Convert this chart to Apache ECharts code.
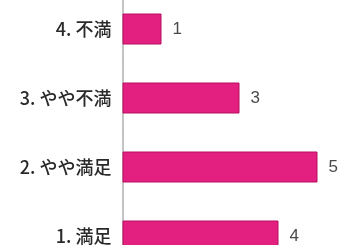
<!DOCTYPE html>
<html>
<head>
<meta charset="utf-8">
<script src="https://cdn.jsdelivr.net/npm/echarts@6/dist/echarts.min.js"></script>
<style>
  html, body { margin: 0; padding: 0; background: #fff; }
  #chart { width: 341px; height: 245px; }
</style>
</head>
<body>
<div id="chart"></div>
<script>
// bottom to top
const categories = ['1. 満足', '2. やや満足', '3. やや不満', '4. 不満']
const counts = [4, 5, 3, 1]

let chart = echarts.init(document.getElementById('chart'))
let option = {
  backgroundColor: '#ffffff',
  animation: false,
  grid: {
    left: 122.5,
    right: 4,
    top: -5.5,
    height: 276,
    outerBoundsMode: 'none',
    containLabel: false
  },
  xAxis: {
    type: 'value',
    min: 0,
    max: 5.5,
    show: false
  },
  yAxis: {
    type: 'category',
    data: categories,
    offset: 3,
    axisTick: { show: false },
    axisLine: {
      show: true,
      lineStyle: { color: '#c2c2c2', width: 2, type: [2, 1] }
    },
    axisLabel: {
      margin: 8,
      fontSize: 18,
      fontWeight: 500,
      color: '#2a2a2a',
      fontFamily: 'Noto Sans CJK JP'
    }
  },
  series: [
    {
      type: 'bar',
      data: counts,
      barWidth: 31,
      itemStyle: {
        color: '#e3207f',
        borderColor: '#b80f62',
        borderWidth: 1
      },
      label: {
        show: true,
        position: 'right',
        distance: 11,
        fontSize: 17,
        color: '#4a4a4a',
        fontFamily: 'Liberation Sans'
      }
    }
  ]
}
chart.setOption(option)
</script>
</body>
</html>
